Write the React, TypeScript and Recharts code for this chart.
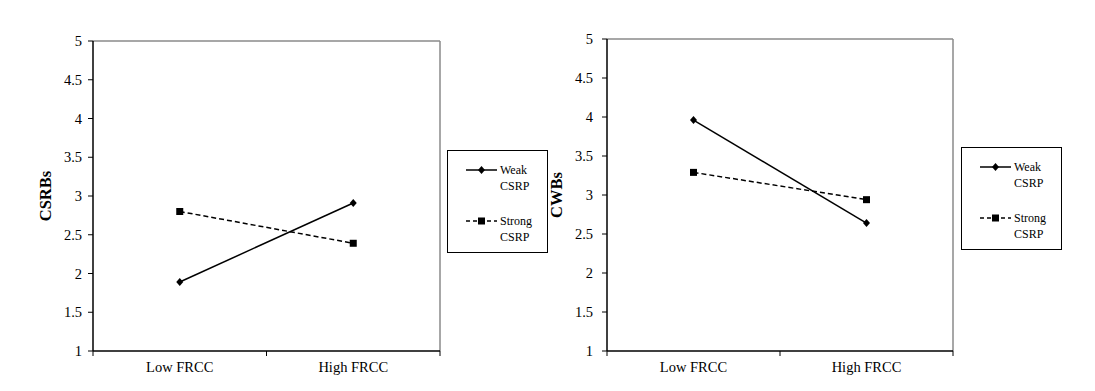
import React from 'react';
import { LineChart, Line, XAxis, YAxis, ReferenceLine } from 'recharts';

const categories = ['Low FRCC', 'High FRCC'];
const seriesNames = [['Weak', 'CSRP'], ['Strong', 'CSRP']];
const csrbWeak = [1.89, 2.91];
const csrbStrong = [2.8, 2.39];
const cwbWeak = [3.96, 2.64];
const cwbStrong = [3.29, 2.94];
const yTicks = [1, 1.5, 2, 2.5, 3, 3.5, 4, 4.5, 5];
const xTicks = [0, 0.5, 1, 1.5, 2];

const FONT = '"Liberation Serif", "Times New Roman", serif';
const GRAY = '#8a8a8a';

const buildData = (weak: number[], strong: number[]) =>
  categories.map((c, i) => ({ x: i + 0.5, cat: c, weak: weak[i], strong: strong[i] }));

const Diamond = ({ cx, cy }: { cx: number; cy: number }) => (
  <polygon points={`${cx},${cy - 4} ${cx + 3.5},${cy} ${cx},${cy + 4} ${cx - 3.5},${cy}`} fill="#000" />
);
const Square = ({ cx, cy }: { cx: number; cy: number }) => (
  <rect x={cx - 3.5} y={cy - 3.5} width={7} height={7} fill="#000" />
);

const renderXTick = (props: any) => {
  const { x, y, payload } = props;
  const v = payload.value as number;
  if (Number.isInteger(v)) {
    return <line x1={x} x2={x} y1={y - 5} y2={y} stroke="#000" strokeWidth={1} />;
  }
  return (
    <text x={x} y={y} dy={16} textAnchor="middle" fontFamily={FONT} fontSize={14.5} fill="#000">
      {categories[Math.round(v - 0.5)]}
    </text>
  );
};

const LegendBox = ({ left, top }: { left: number; top: number }) => {
  const entries = [
    { lines: seriesNames[0], dash: undefined as string | undefined, Marker: Diamond, top: 11 },
    { lines: seriesNames[1], dash: '4 3', Marker: Square, top: 62 },
  ];
  return (
    <div
      style={{
        position: 'absolute',
        left,
        top,
        width: 101,
        height: 103,
        border: '1px solid #000',
        boxSizing: 'border-box',
        background: '#fff',
        fontFamily: FONT,
        fontSize: 12,
        color: '#000',
      }}
    >
      {entries.map((e, i) => (
        <div key={i} style={{ position: 'absolute', left: 0, top: e.top, width: '100%' }}>
          <svg width={34} height={16} style={{ position: 'absolute', left: 17, top: 0 }}>
            <line x1={1} x2={32} y1={8} y2={8} stroke="#000" strokeWidth={1.5} strokeDasharray={e.dash} />
            <e.Marker cx={16.5} cy={8} />
          </svg>
          <div style={{ position: 'absolute', left: 52, top: 0, lineHeight: '16px', whiteSpace: 'nowrap' }}>
            {e.lines[0]}
            <br />
            {e.lines[1]}
          </div>
        </div>
      ))}
    </div>
  );
};

type PanelProps = {
  left: number;
  width: number;
  data: any[];
  title: string;
  margin: { top: number; right: number; bottom: number; left: number };
  yWidth: number;
  yTickMargin: number;
  labelX: number;
};

const Panel = (p: PanelProps) => (
  <div style={{ position: 'absolute', left: p.left, top: 0 }}>
    <LineChart width={p.width} height={391} data={p.data} margin={p.margin}>
      <ReferenceLine y={5} stroke={GRAY} strokeWidth={1.5} />
      <ReferenceLine x={2} stroke={GRAY} strokeWidth={1.5} />
      <XAxis
        type="number"
        dataKey="x"
        domain={[0, 2]}
        ticks={xTicks}
        interval={0}
        tickLine={false}
        tickSize={5}
        tickMargin={0}
        axisLine={{ stroke: '#000', strokeWidth: 1.5 }}
        tick={renderXTick}
        height={30}
        allowDecimals
      />
      <YAxis
        type="number"
        domain={[1, 5]}
        ticks={yTicks}
        interval={0}
        width={p.yWidth}
        tickSize={5}
        tickMargin={p.yTickMargin}
        axisLine={{ stroke: '#000', strokeWidth: 1.5 }}
        tickLine={{ stroke: '#000' }}
        tick={{ fill: '#000', fontSize: 14.5, fontFamily: FONT }}
        label={(lp: any) => {
          const vb = lp.viewBox || {};
          const cy = (vb.y ?? 41) + (vb.height ?? 310) / 2;
          return (
            <text
              x={p.labelX}
              y={cy}
              transform={`rotate(-90 ${p.labelX} ${cy})`}
              textAnchor="middle"
              dominantBaseline="central"
              fontFamily={FONT}
              fontWeight="bold"
              fontSize={16.5}
              fill="#000"
            >
              {p.title}
            </text>
          );
        }}
      />
      <Line
        type="linear"
        dataKey="weak"
        name="Weak CSRP"
        stroke="#000"
        strokeWidth={1.5}
        isAnimationActive={false}
        dot={(dp: any) => <Diamond key={`d${dp.index}`} cx={dp.cx} cy={dp.cy} />}
        activeDot={false}
      />
      <Line
        type="linear"
        dataKey="strong"
        name="Strong CSRP"
        stroke="#000"
        strokeWidth={1.5}
        strokeDasharray="5 3"
        isAnimationActive={false}
        dot={(dp: any) => <Square key={`s${dp.index}`} cx={dp.cx} cy={dp.cy} />}
        activeDot={false}
      />
    </LineChart>
  </div>
);

export default function App() {
  return (
    <div style={{ position: 'absolute', left: 0, top: 0, width: 1095, height: 391, background: '#fff' }}>
      <Panel
        left={0}
        width={560}
        data={buildData(csrbWeak, csrbStrong)}
        title="CSRBs"
        margin={{ top: 41, right: 120, bottom: 10, left: 33 }}
        yWidth={60}
        yTickMargin={6}
        labelX={45}
      />
      <Panel
        left={540}
        width={555}
        data={buildData(cwbWeak, cwbStrong)}
        title="CWBs"
        margin={{ top: 39, right: 142, bottom: 10, left: 17 }}
        yWidth={50}
        yTickMargin={9}
        labelX={16}
      />
      <LegendBox left={447} top={150} />
      <LegendBox left={961} top={147} />
    </div>
  );
}
